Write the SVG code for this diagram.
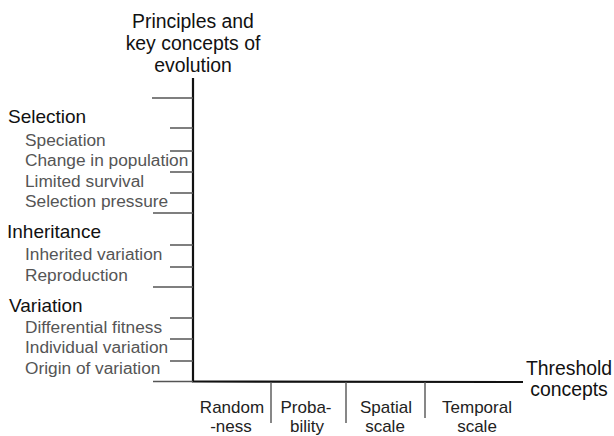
<svg xmlns="http://www.w3.org/2000/svg" width="614" height="436" viewBox="0 0 614 436">
<style>
text{font-family:"Liberation Sans",Arial,sans-serif}
.h{font-size:19px;fill:#111}
.s{font-size:17.3px;fill:#555}
.b{font-size:17px;fill:#222;text-anchor:middle}
.t{font-size:19.4px;fill:#111;text-anchor:middle}
.axis{stroke:#111;stroke-width:2.2;fill:none}
.tick{stroke:#555;stroke-width:1.4;fill:none}
</style>
<rect width="614" height="436" fill="#fff"/>
<g id="connectors">
<path class="axis" d="M193,78 V381.5 L523,382"/>
<path class="tick" d="M152,98H193M170,128H193M170,151H193M170,172H193M170,193H193M153,213H193M170,245H193M170,267H193M153,287H193M170,318H193M170,339H193M170,361H193M153,381.5H193"/>
<path class="tick" d="M271,382V423M346,382V423M425,382V418"/>
</g>
<g id="y-title"><text class="t" x="193" y="28">Principles and</text><text class="t" x="193" y="50">key concepts of</text><text class="t" x="193" y="72">evolution</text></g>
<g id="x-title"><text class="t" x="569" y="375">Threshold</text><text class="t" x="569" y="396">concepts</text></g>
<g id="selection"><text class="h" x="8" y="123">Selection</text>
<text class="s" x="25" y="146">Speciation</text>
<text class="s" x="25" y="166">Change in population</text>
<text class="s" x="25" y="187">Limited survival</text>
<text class="s" x="25" y="207">Selection pressure</text></g>
<g id="inheritance"><text class="h" x="7" y="238">Inheritance</text>
<text class="s" x="25" y="260">Inherited variation</text>
<text class="s" x="25" y="281">Reproduction</text></g>
<g id="variation"><text class="h" x="9" y="312">Variation</text>
<text class="s" x="25" y="333">Differential fitness</text>
<text class="s" x="25" y="353">Individual variation</text>
<text class="s" x="25" y="374">Origin of variation</text></g>
<g id="randomness"><text class="b" x="232" y="413">Random</text><text class="b" x="231" y="432">-ness</text></g>
<g id="probability"><text class="b" x="306" y="413">Proba-</text><text class="b" x="307" y="432">bility</text></g>
<g id="spatial"><text class="b" x="386" y="413">Spatial</text><text class="b" x="385" y="432">scale</text></g>
<g id="temporal"><text class="b" x="477" y="413">Temporal</text><text class="b" x="477" y="432">scale</text></g>
</svg>
